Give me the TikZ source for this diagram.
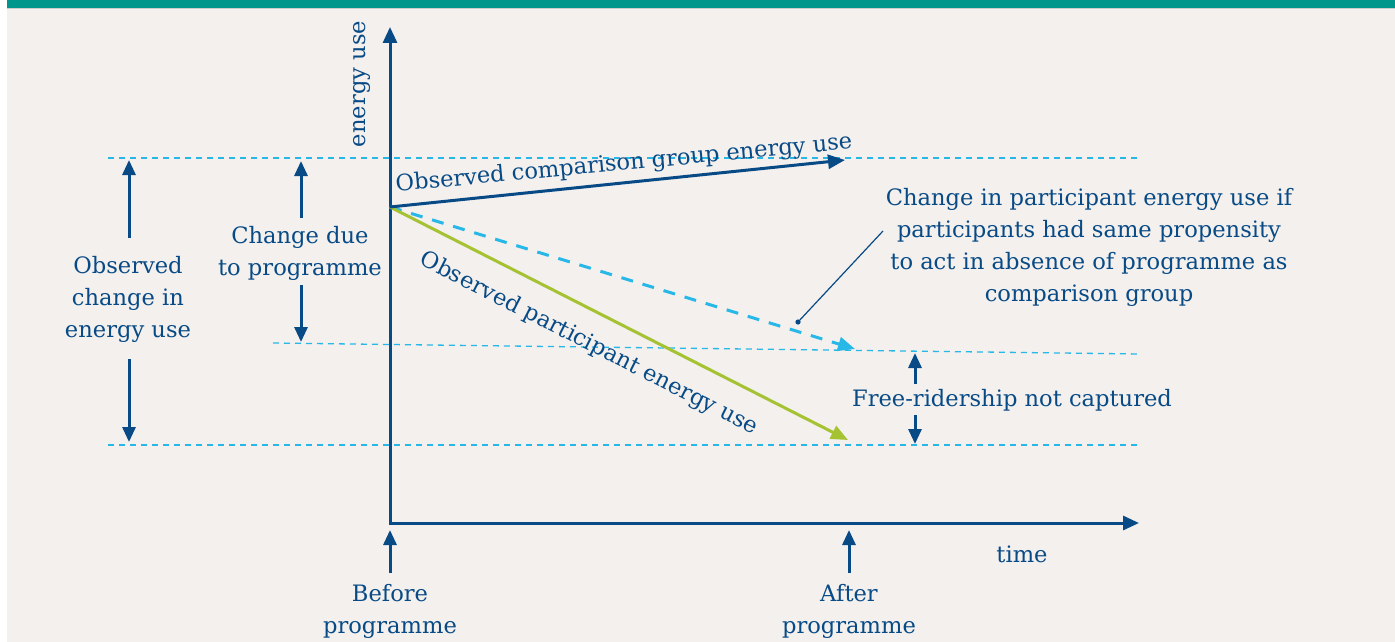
\documentclass[tikz,border=0pt]{standalone}
\usepackage{fontspec}
\setmainfont{DejaVu Serif}
\usetikzlibrary{arrows.meta}
\definecolor{navy}{RGB}{8,74,134}
\definecolor{sky}{RGB}{40,184,232}
\definecolor{lime}{RGB}{165,194,50}
\definecolor{barteal}{RGB}{0,150,140}
\definecolor{paper}{RGB}{243,240,237}
\begin{document}
\begin{tikzpicture}[x=1pt,y=-1pt,
  lbl/.style={text=navy, font=\fontsize{22.6}{32}\selectfont, align=center, inner sep=0pt},
  axisline/.style={draw=navy, line width=3pt, line join=miter},
  dimarrow/.style={draw=navy, line width=3pt, -{Triangle[length=15pt,width=13pt]}},
  guide/.style={draw=sky, line width=1.3pt, dash pattern=on 6pt off 5pt},
]
\useasboundingbox (0,0) rectangle (1395,642);
\fill[white] (0,0) rectangle (1395,642);
\fill[paper] (7,0) rectangle (1395,642);
\fill[barteal] (7,0) rectangle (1395,8);
\draw[black!20, line width=0.8pt] (7,8.5) -- (1395,8.5);

% coordinates
\coordinate (ytop) at (390,27);
\coordinate (O) at (390,523);
\coordinate (xend) at (1139,523);
\coordinate (S) at (390,207);
\coordinate (C) at (845,160);
\coordinate (D) at (855,349);
\coordinate (G) at (848,440);

% guide lines
\coordinate (g1a) at (108,158); \coordinate (g1b) at (1140,158);
\coordinate (g2a) at (273,343); \coordinate (g2b) at (1140,354);
\coordinate (g3a) at (108,445); \coordinate (g3b) at (1140,445);
\draw[guide] (g1a) -- (g1b);
\draw[guide] (g2a) -- (g2b);
\draw[guide] (g3a) -- (g3b);

% axes
\draw[axisline, {Triangle[length=16pt,width=14pt]}-{Triangle[length=16pt,width=14pt]}] (ytop) -- (O) -- (xend);

% trend arrows
\draw[draw=sky, line width=3pt, dash pattern=on 12pt off 10pt, -{Triangle[length=17pt,width=14pt]}] (S) -- (D);
\draw[draw=lime, line width=3pt, -{Triangle[length=17pt,width=14pt]}] (S) -- (G);
\draw[draw=navy, line width=3pt, -{Triangle[length=17pt,width=14pt]}] (S) -- (C);

% leader
\coordinate (dot) at (798,322);
\coordinate (lead) at (883,231);
\draw[navy, line width=1.2pt] (dot) -- (lead);
\fill[navy] (dot) circle (2.6pt);

% labels
\node[lbl, rotate=90] (ey) at (362,84) {energy use};
\node[lbl] (tm) at (1022,554) {time};
\node[lbl, rotate=5.4] (cmp) at (624,164) {Observed comparison group energy use};
\node[lbl, rotate=-27] (par) at (589,344) {Observed participant energy use};
\node[lbl] (chg) at (1089,247) {Change in participant energy use if\\participants had same propensity\\to act in absence of programme as\\comparison group};
\node[lbl] (free) at (1012,400) {Free-ridership not captured};
\node[lbl] (obs) at (128,299) {Observed\\change in\\energy use};
\node[lbl] (due) at (300,253) {Change due\\to programme};
\node[lbl] (bef) at (390,611) {Before\\programme};
\node[lbl] (aft) at (849,611) {After\\programme};

% dimension arrows
\coordinate (o1) at (129,238); \coordinate (o1t) at (129,160);
\coordinate (o2) at (129,359); \coordinate (o2t) at (129,442);
\draw[dimarrow] (o1) -- (o1t);
\draw[dimarrow] (o2) -- (o2t);
\coordinate (d1) at (301,218); \coordinate (d1t) at (301,161);
\coordinate (d2) at (301,285); \coordinate (d2t) at (301,342);
\draw[dimarrow] (d1) -- (d1t);
\draw[dimarrow] (d2) -- (d2t);
\coordinate (f1) at (915,384); \coordinate (f1t) at (915,353);
\coordinate (f2) at (915,415); \coordinate (f2t) at (915,444);
\draw[dimarrow] (f1) -- (f1t);
\draw[dimarrow] (f2) -- (f2t);
\coordinate (b1) at (390,573); \coordinate (b1t) at (390,530);
\coordinate (a1) at (849,573); \coordinate (a1t) at (849,530);
\draw[dimarrow] (b1) -- (b1t);
\draw[dimarrow] (a1) -- (a1t);
\end{tikzpicture}
\end{document}
